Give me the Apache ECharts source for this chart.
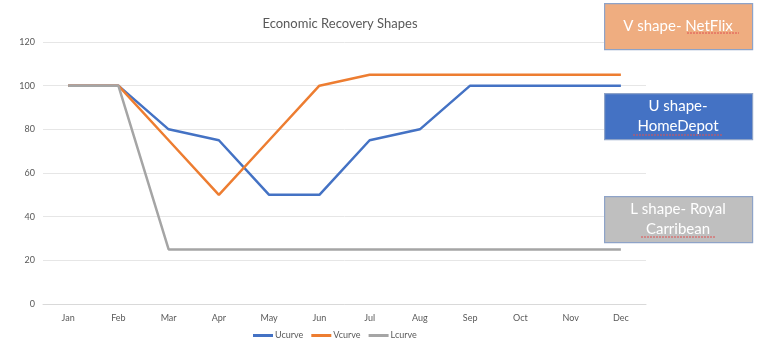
<!DOCTYPE html>
<html>
<head>
<meta charset="utf-8">
<script src="https://cdn.jsdelivr.net/npm/echarts@6/dist/echarts.min.js"></script>
<style>html,body{margin:0;padding:0;background:#fff}#c{width:768px;height:357px}</style>
</head>
<body>
<div id="c"></div>
<script>
var months = ['Jan','Feb','Mar','Apr','May','Jun','Jul','Aug','Sep','Oct','Nov','Dec'];
var ucurve = [100,100,80,75,50,50,75,80,100,100,100,100];
var vcurve = [100,100,75,50,75,100,105,105,105,105,105,105];
var lcurve = [100,100,25,25,25,25,25,25,25,25,25,25];
var seriesNames = ['Ucurve','Vcurve','Lcurve'];
var colors = ['#4472C4','#ED7D31','#A5A5A5'];
var boxLines = [['V shape- NetFlix'], ['U shape-','HomeDepot'], ['L shape- Royal','Carribean']];
var boxColors = ['#EFAD80','#4472C4','#BFBFBF'];

var chart = echarts.init(document.getElementById('c'), null, {renderer:'canvas'});
var font = 'Lato, "Open Sans", sans-serif';
function mk(name, data, color){
  return {name:name, type:'line', data:data, symbol:'none', smooth:false,
    lineStyle:{color:color, width:2.5}, itemStyle:{color:color}, animation:false};
}
var boxTops = [3, 93, 196];
var graphics = [];
boxLines.forEach(function(lines, i){
  graphics.push({type:'rect', left:604, top:boxTops[i], shape:{width:148, height:46},
    style:{fill:boxColors[i], stroke:'#8EA3C8', lineWidth:1.2}, z:100});
  graphics.push({type:'text', x:678, y:boxTops[i]+23, z:101,
    style:{text:lines.join('\n'), fill:'#ffffff', font:'15px '+font, align:'center', verticalAlign:'middle', lineHeight:20}});
});
// spell-check underline marks
graphics.push({type:'line', z:102, shape:{x1:687,y1:33,x2:739,y2:33}, style:{stroke:'#e05050', lineWidth:1, lineDash:[2,1]}});
graphics.push({type:'line', z:102, shape:{x1:633,y1:135,x2:723,y2:135}, style:{stroke:'#e05050', lineWidth:1, lineDash:[2,1]}});
graphics.push({type:'line', z:102, shape:{x1:641,y1:237,x2:715,y2:237}, style:{stroke:'#e05050', lineWidth:1, lineDash:[2,1]}});

chart.setOption({
  animation:false,
  color:colors,
  title:{text:'Economic Recovery Shapes', left:335, top:12, textAlign:'center',
    textStyle:{color:'#595959', fontSize:13, fontWeight:'normal', fontFamily:font}},
  legend:{data:seriesNames, bottom:12, itemWidth:20, itemHeight:3, itemGap:8,
    icon:'rect', left:248,
    textStyle:{color:'#595959', fontSize:9, fontFamily:font, padding:[0,0,0,-3]}},
  grid:{left:43, right:122, top:42, bottom:53},
  xAxis:{type:'category', data:months, boundaryGap:true,
    axisLine:{show:true, lineStyle:{color:'#d9d9d9'}}, axisTick:{show:false},
    axisLabel:{color:'#595959', fontSize:9, fontFamily:font, margin:10}},
  yAxis:{type:'value', min:0, max:120, interval:20,
    axisLine:{show:false}, axisTick:{show:false},
    splitLine:{lineStyle:{color:'#e6e6e6', width:1}},
    axisLabel:{color:'#595959', fontSize:9, fontFamily:font, margin:8}},
  series:[mk(seriesNames[0], ucurve, colors[0]), mk(seriesNames[1], vcurve, colors[1]), mk(seriesNames[2], lcurve, colors[2])],
  graphic:graphics
});
</script>
</body>
</html>
